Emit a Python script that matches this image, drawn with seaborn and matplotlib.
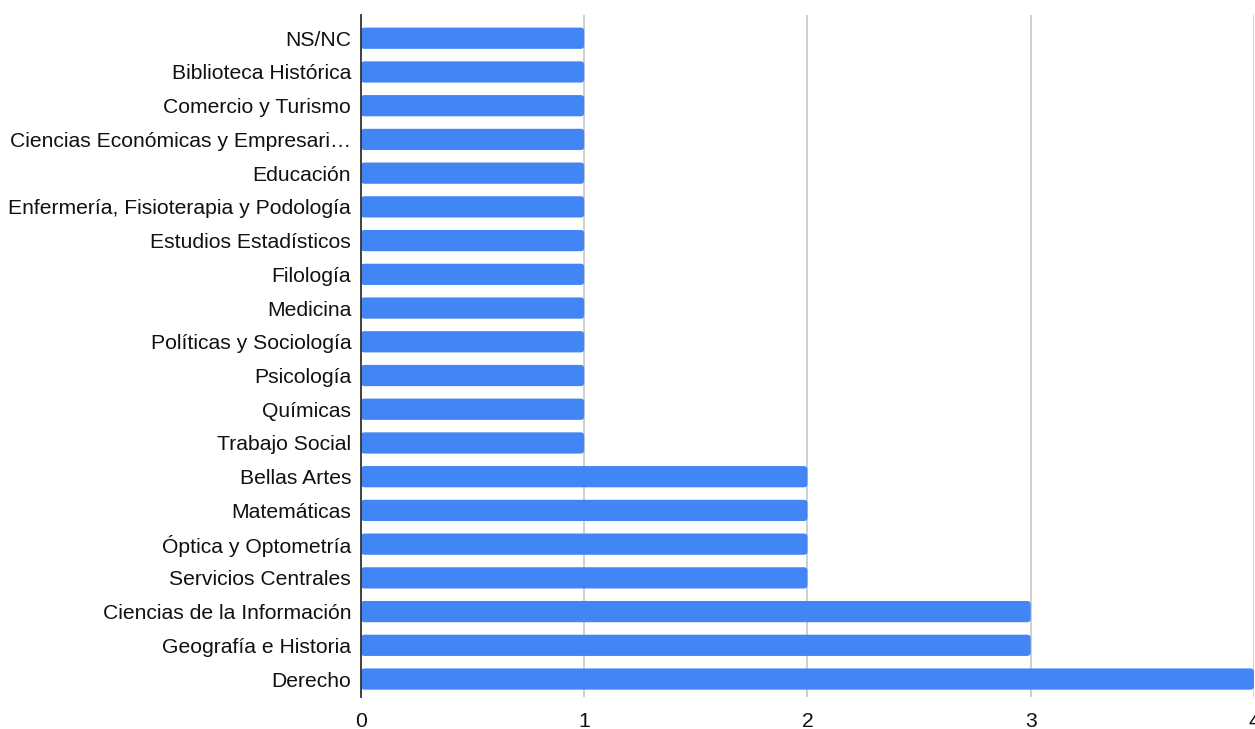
import matplotlib
matplotlib.use("Agg")
import matplotlib.pyplot as plt
from matplotlib.patches import FancyBboxPatch
import seaborn as sns
import pandas as pd

# datos
facultades = ['NS/NC', 'Biblioteca Histórica', 'Comercio y Turismo',
              'Ciencias Económicas y Empresari…', 'Educación',
              'Enfermería, Fisioterapia y Podología', 'Estudios Estadísticos',
              'Filología', 'Medicina', 'Políticas y Sociología', 'Psicología',
              'Químicas', 'Trabajo Social', 'Bellas Artes', 'Matemáticas',
              'Óptica y Optometría', 'Servicios Centrales',
              'Ciencias de la Información', 'Geografía e Historia', 'Derecho']
conteo = [1, 1, 1, 1, 1, 1, 1, 1, 1, 1, 1, 1, 1, 2, 2, 2, 2, 3, 3, 4]

df = pd.DataFrame({'Facultad': facultades, 'Conteo': conteo})

sns.set_style('white')
plt.rcParams['font.family'] = ['Liberation Sans', 'DejaVu Sans']

fig = plt.figure(figsize=(12.55, 7.29), dpi=100)
ax = fig.add_axes([0.2876, 0.044, 0.7116, 0.935])

sns.barplot(data=df, x='Conteo', y='Facultad', color='#4285F4',
            saturation=1, width=0.63, ax=ax, zorder=3)

ax.set_xlim(0, 4)
ax.set_ylim(19.53, -0.68)

# esquinas redondeadas en las barras
aspect = (20.21 / 682) / (4 / 893)
for p in list(ax.patches):
    x, y = p.get_x(), p.get_y()
    w, h = p.get_width(), p.get_height()
    fb = FancyBboxPatch((x, y), w, h,
                        boxstyle='round,pad=0,rounding_size=0.016',
                        mutation_aspect=aspect, facecolor='#4285F4',
                        edgecolor='none', zorder=3)
    p.remove()
    ax.add_patch(fb)

ax.set_xticks([0, 1, 2, 3, 4])
ax.set_xlabel('')
ax.set_ylabel('')
ax.grid(axis='x', color='#cccccc', linewidth=1.3, zorder=0)
ax.grid(axis='y', visible=False)
for s in ['top', 'right', 'bottom']:
    ax.spines[s].set_visible(False)
ax.spines['left'].set_color('#333333')
ax.spines['left'].set_linewidth(1.3)
ax.spines['left'].set_zorder(4)
ax.tick_params(axis='both', length=0, labelsize=15.2, colors='#111111')
ax.tick_params(axis='x', pad=11)
ax.tick_params(axis='y', pad=7)

fig.savefig('out.png', dpi=100)
